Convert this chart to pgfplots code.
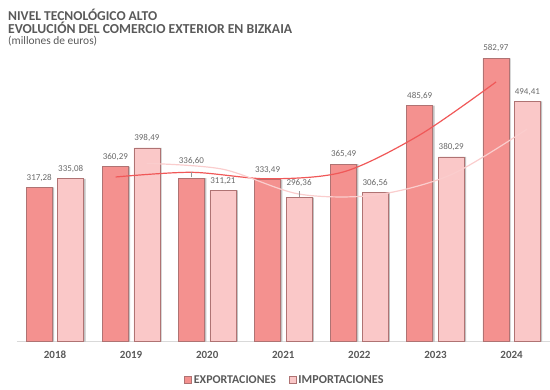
\documentclass[border=0pt]{standalone}
\usepackage{pgfplots}
\pgfplotsset{compat=1.18}
\usepackage{pgfplotstable}
\usepackage{fontspec}
\setmainfont{Carlito}
\definecolor{expfill}{RGB}{244,145,143}
\definecolor{impfill}{RGB}{250,200,200}
\definecolor{expline}{RGB}{240,88,88}
\definecolor{impline}{RGB}{250,205,205}
\definecolor{txt}{RGB}{89,89,89}
\definecolor{lbl}{RGB}{105,105,105}
\definecolor{bord}{RGB}{175,115,115}
\definecolor{axl}{RGB}{217,217,217}
\newcommand{\leadA}{\ooalign{\hfil\textcolor{lbl!70}{\rule[-7bp]{0.5pt}{5.5bp}}\hfil\cr\raisebox{7bp}{336,60}\cr}}
\newcommand{\leadB}{\ooalign{\hfil\textcolor{lbl!70}{\rule[-7bp]{0.5pt}{5.5bp}}\hfil\cr\raisebox{4bp}{296,36}\cr}}
\pgfplotstableread{
x y lab
0 317.28 317,28
1 360.29 360,29
2 336.60 \leadA
3 333.49 333,49
4 365.49 365,49
5 485.69 485,69
6 582.97 582,97
}\exptab
\pgfplotstableread{
x y lab
0 335.08 335,08
1 398.49 398,49
2 311.21 311,21
3 296.36 \leadB
4 306.56 306,56
5 380.29 380,29
6 494.41 494,41
}\imptab
\pgfplotstableread{
x y
1 338.785
2 348.445
3 335.045
4 349.49
5 425.59
6 534.33
}\expavg
\pgfplotstableread{
x y
1 366.785
2 354.85
3 303.785
4 301.46
5 343.425
6 437.35
}\impavg
\begin{document}
\begin{tikzpicture}
\path[use as bounding box] (0,0) rectangle (550bp,390bp);
\node[anchor=base west, inner sep=0pt, text=txt, font=\bfseries\fontsize{14bp}{16bp}\selectfont] at (8bp,369bp) {\resizebox{149bp}{!}{NIVEL TECNOLÓGICO ALTO}};
\node[anchor=base west, inner sep=0pt, text=txt, font=\bfseries\fontsize{14bp}{16bp}\selectfont] at (8bp,356.5bp) {\resizebox{284bp}{!}{EVOLUCIÓN DEL COMERCIO EXTERIOR EN BIZKAIA}};
\node[anchor=base west, inner sep=0pt, text=txt, font=\fontsize{11bp}{13bp}\selectfont] at (8bp,345.5bp) {\resizebox{89bp}{!}{(millones de euros)}};
\begin{axis}[
  at={(16.95bp,48.3bp)}, anchor=south west,
  scale only axis, width=532.7bp, height=291.7bp,
  xmin=-0.5, xmax=6.5, ymin=0, ymax=600,
  ybar,
  axis y line=none, axis x line*=bottom,
  x axis line style={draw=axl, line width=0.8bp, -},
  xtick={0,1,2,3,4,5,6},
  xticklabels={2018,2019,2020,2021,2022,2023,2024},
  major tick length=0pt,
  xticklabel style={font=\bfseries\fontsize{11bp}{13bp}\selectfont, text=txt, yshift=-6bp},
  clip=false,
  bar width=26bp,
  legend columns=2,
  legend style={at={(0.503,-0.131)}, anchor=center, draw=none, fill=none,
    font=\bfseries\fontsize{12bp}{14bp}\selectfont, text=txt,
    /tikz/every even column/.append style={column sep=11bp}},
  legend image code/.code={\draw[#1] (0bp,-3.5bp) rectangle (7bp,3.5bp);},
  nodes near coords style={font=\fontsize{9bp}{10bp}\selectfont, text=lbl, anchor=south, inner sep=0pt, yshift=7bp, text depth=0pt},
]
% shadows
\addplot[bar shift=-13.9bp, fill=black!40, draw=none, opacity=0.6, forget plot] table[x=x,y=y]{\exptab};
\addplot[bar shift=17.6bp, fill=black!40, draw=none, opacity=0.6, forget plot] table[x=x,y=y]{\imptab};
% bars
\addplot[bar shift=-15.75bp, fill=expfill, draw=bord, line width=0.6bp, forget plot,
  point meta=explicit symbolic, nodes near coords] table[x=x,y=y,meta=lab]{\exptab};
\addplot[bar shift=15.75bp, fill=impfill, draw=bord, line width=0.6bp, forget plot,
  point meta=explicit symbolic, nodes near coords] table[x=x,y=y,meta=lab]{\imptab};
% moving averages
\addplot[expline, line width=1.2bp, smooth, mark=none, forget plot] table[x expr=\thisrow{x}-0.2037, y=y]{\expavg};
\addplot[impline, line width=1.2bp, smooth, mark=none, forget plot] table[x expr=\thisrow{x}+0.2037, y=y]{\impavg};
\addlegendimage{fill=expfill, draw=bord, line width=0.6bp}
\addlegendentry{\resizebox{82bp}{!}{EXPORTACIONES}}
\addlegendimage{fill=impfill, draw=bord, line width=0.6bp}
\addlegendentry{\resizebox{85bp}{!}{IMPORTACIONES}}
\end{axis}
\end{tikzpicture}
\end{document}
